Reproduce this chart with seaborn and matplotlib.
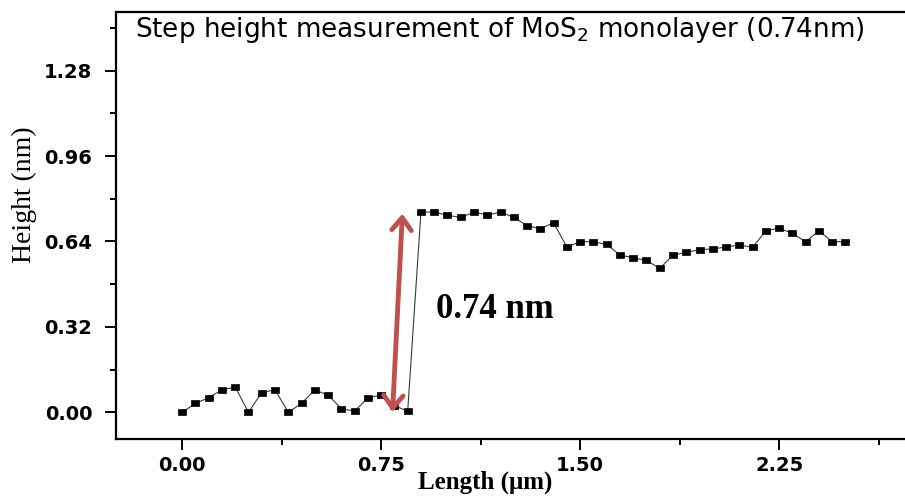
"""Step height profile of a MoS2 monolayer (AFM line scan)."""
import matplotlib

matplotlib.use("Agg")

import matplotlib.pyplot as plt
import pandas as pd
import seaborn as sns
from matplotlib.ticker import MultipleLocator

# profile data (length in um, height in nm)
length_um = [
    0.00, 0.05, 0.10, 0.15, 0.20, 0.25, 0.30, 0.35, 0.40, 0.45,
    0.50, 0.55, 0.60, 0.65, 0.70, 0.75, 0.80, 0.85, 0.90, 0.95,
    1.00, 1.05, 1.10, 1.15, 1.20, 1.25, 1.30, 1.35, 1.40, 1.45,
    1.50, 1.55, 1.60, 1.65, 1.70, 1.75, 1.80, 1.85, 1.90, 1.95,
    2.00, 2.05, 2.10, 2.15, 2.20, 2.25, 2.30, 2.35, 2.40, 2.45,
    2.50,
]
height_nm = [
    0.000, 0.033, 0.055, 0.084, 0.094, 0.000, 0.074, 0.084, 0.000, 0.033,
    0.084, 0.064, 0.014, 0.004, 0.054, 0.064, 0.025, 0.004, 0.750, 0.750,
    0.738, 0.730, 0.750, 0.739, 0.750, 0.730, 0.699, 0.688, 0.710, 0.619,
    0.639, 0.639, 0.629, 0.589, 0.579, 0.569, 0.539, 0.589, 0.599, 0.609,
    0.612, 0.619, 0.627, 0.618, 0.680, 0.690, 0.670, 0.639, 0.680, 0.639,
    0.639,
]
x_ticks = [0.00, 0.75, 1.50, 2.25]
y_ticks = [0.00, 0.32, 0.64, 0.96, 1.28]

# step arrow end points (bottom terrace -> top terrace)
arrow_bottom = (0.793, 0.001)
arrow_top = (0.830, 0.744)
step_label = "0.74 nm"

TITLE = "Step height measurement of MoS$_2$ monolayer (0.74nm)"
RED = "#c0504d"

sns.set_theme(style="ticks")
plt.rcParams["font.family"] = ["DejaVu Sans"]
plt.rcParams["mathtext.fontset"] = "dejavusans"

df = pd.DataFrame({"length": length_um, "height": height_nm})

fig = plt.figure(figsize=(9.05, 4.96), dpi=100)
ax = fig.add_axes([0.128, 0.115, 0.8795, 0.861])

# flat rectangular markers like the original export
rect = [(-1, -0.62), (1, -0.62), (1, 0.62), (-1, 0.62), (-1, -0.62)]
sns.lineplot(
    data=df, x="length", y="height", ax=ax,
    color="#3a3a3a", linewidth=0.8,
    marker=rect, markersize=6, markerfacecolor="black",
    markeredgecolor="black", markeredgewidth=0.5,
)

ax.set_xlim(-0.25, 2.75)
ax.set_ylim(-0.1, 1.5)
ax.set_xticks(x_ticks)
ax.set_yticks(y_ticks)
ax.xaxis.set_minor_locator(MultipleLocator(0.375))
ax.yaxis.set_minor_locator(MultipleLocator(0.16))
ax.set_xticklabels([f"{v:.2f}" for v in x_ticks])
ax.set_yticklabels([f"{v:.2f}" for v in y_ticks])

for side in ["left", "bottom", "top", "right"]:
    ax.spines[side].set_visible(True)
    ax.spines[side].set_linewidth(1.6)
    ax.spines[side].set_color("black")

ax.tick_params(axis="both", which="major", direction="out", length=8,
               width=1.4, color="black")
ax.tick_params(axis="both", which="minor", direction="out", length=4.5,
               width=1.4, color="black")
ax.tick_params(axis="y", which="major", pad=9)
ax.tick_params(axis="x", which="major", pad=4)
for lbl in ax.get_xticklabels() + ax.get_yticklabels():
    lbl.set_fontweight("bold")
    lbl.set_fontsize(14)
    lbl.set_color("black")

ax.set_xlabel("Length (\u03bcm)", family=["Liberation Serif"],
              fontweight="bold", fontsize=18, color="black")
ax.set_ylabel("Height (nm)", family=["Liberation Serif"],
              fontsize=20, color="black")
ax.xaxis.set_label_coords(0.464, -0.073)
ax.yaxis.set_label_coords(-0.099, 0.571)

ax.annotate(
    "", xy=arrow_top, xytext=arrow_bottom,
    arrowprops=dict(arrowstyle="<->, head_length=0.45, head_width=0.35",
                    color=RED, lw=3.5, shrinkA=0, shrinkB=0,
                    mutation_scale=20),
    zorder=5,
)
ax.text(0.957, 0.385, step_label, family=["Liberation Serif"],
        fontweight="bold", fontsize=25, ha="left", va="center",
        color="black")

fig.text(135 / 905, 1 - 37 / 496, TITLE, fontsize=18.9, ha="left",
         va="baseline", color="black")

fig.savefig("out.png", dpi=100, facecolor="white")
